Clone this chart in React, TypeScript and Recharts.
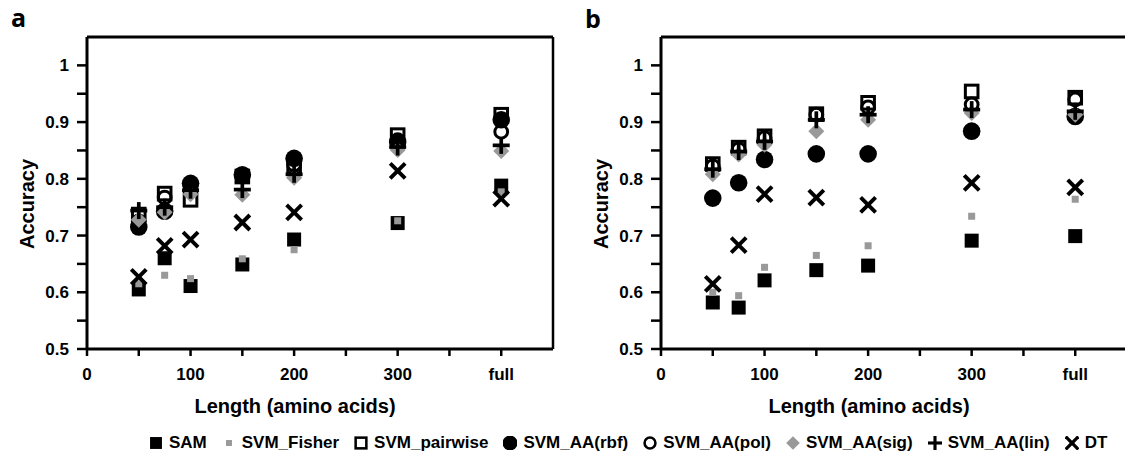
import React from "react";
import { ScatterChart, Scatter, XAxis, YAxis, ReferenceLine } from "recharts";

// ---- data ----
const LENGTHS = [50, 75, 100, 150, 200, 300, 400];
const X_TICKS = [0, 50, 100, 150, 200, 250, 300, 350, 400];
const X_LABELS: Record<number, string> = { 0: "0", 100: "100", 200: "200", 300: "300", 400: "full" };
const Y_TICKS = [0.5, 0.55, 0.6, 0.65, 0.7, 0.75, 0.8, 0.85, 0.9, 0.95, 1];
const LEGEND_NAMES = ["SAM", "SVM_Fisher", "SVM_pairwise", "SVM_AA(rbf)", "SVM_AA(pol)", "SVM_AA(sig)", "SVM_AA(lin)", "DT"];

// panel a
const SAM_A = [0.605, 0.66, 0.611, 0.649, 0.693, 0.722, 0.788];
const FISHER_A = [0.615, 0.63, 0.624, 0.659, 0.675, 0.726, 0.777];
const PAIRWISE_A = [0.737, 0.774, 0.763, 0.804, 0.822, 0.877, 0.913];
const RBF_A = [0.715, 0.743, 0.792, 0.807, 0.836, 0.865, 0.904];
const POL_A = [0.725, 0.767, 0.787, 0.805, 0.825, 0.868, 0.883];
const SIG_A = [0.728, 0.741, 0.773, 0.772, 0.802, 0.851, 0.849];
const LIN_A = [0.744, 0.75, 0.78, 0.781, 0.808, 0.856, 0.859];
const DT_A = [0.627, 0.682, 0.693, 0.723, 0.741, 0.814, 0.765];

// panel b
const SAM_B = [0.582, 0.573, 0.621, 0.639, 0.647, 0.691, 0.699];
const FISHER_B = [0.6, 0.594, 0.644, 0.665, 0.682, 0.734, 0.764];
const PAIRWISE_B = [0.826, 0.855, 0.875, 0.914, 0.934, 0.954, 0.943];
const RBF_B = [0.766, 0.793, 0.834, 0.844, 0.844, 0.884, 0.91];
const POL_B = [0.822, 0.852, 0.872, 0.913, 0.926, 0.931, 0.94];
const SIG_B = [0.808, 0.843, 0.86, 0.884, 0.904, 0.916, 0.913];
const LIN_B = [0.817, 0.848, 0.866, 0.904, 0.913, 0.922, 0.919];
const DT_B = [0.615, 0.683, 0.773, 0.767, 0.754, 0.793, 0.785];

const FONT = '"Liberation Sans", Arial, Helvetica, sans-serif';
const GRAY = "#999999";

type Kind = "sam" | "fisher" | "pairwise" | "rbf" | "pol" | "sig" | "lin" | "dt";

function Marker({ kind, cx, cy, s = 1 }: { kind: Kind; cx: number; cy: number; s?: number }) {
  switch (kind) {
    case "sam":
      return <rect x={cx - 7 * s} y={cy - 7 * s} width={14 * s} height={14 * s} fill="#000" />;
    case "fisher":
      return <rect x={cx - 3.5 * s} y={cy - 3.5 * s} width={7 * s} height={7 * s} fill={GRAY} />;
    case "pairwise":
      return <rect x={cx - 6.3 * s} y={cy - 6.3 * s} width={12.6 * s} height={12.6 * s} fill="none" stroke="#000" strokeWidth={3 * s} />;
    case "rbf":
      return <circle cx={cx} cy={cy} r={8.8 * s} fill="#000" />;
    case "pol":
      return <circle cx={cx} cy={cy} r={6.4 * s} fill="none" stroke="#000" strokeWidth={3 * s} />;
    case "sig":
      return (
        <polygon
          points={`${cx},${cy - 8 * s} ${cx + 8 * s},${cy} ${cx},${cy + 8 * s} ${cx - 8 * s},${cy}`}
          fill={GRAY}
        />
      );
    case "lin":
      return (
        <g stroke="#000" strokeWidth={3.7 * s}>
          <line x1={cx - 8.5 * s} y1={cy} x2={cx + 8.5 * s} y2={cy} />
          <line x1={cx} y1={cy - 8.5 * s} x2={cx} y2={cy + 8.5 * s} />
        </g>
      );
    case "dt":
      return (
        <g stroke="#000" strokeWidth={3.9 * s}>
          <line x1={cx - 7.5 * s} y1={cy - 7.5 * s} x2={cx + 7.5 * s} y2={cy + 7.5 * s} />
          <line x1={cx - 7.5 * s} y1={cy + 7.5 * s} x2={cx + 7.5 * s} y2={cy - 7.5 * s} />
        </g>
      );
  }
  return null;
}

const LEGEND_KINDS: Kind[] = ["sam", "fisher", "pairwise", "rbf", "pol", "sig", "lin", "dt"];
const DRAW_ORDER: Kind[] = ["sam", "fisher", "rbf", "pol", "pairwise", "sig", "lin", "dt"];

const PANEL_A: Record<Kind, number[]> = {
  sam: SAM_A, fisher: FISHER_A, pairwise: PAIRWISE_A, rbf: RBF_A, pol: POL_A, sig: SIG_A, lin: LIN_A, dt: DT_A,
};
const PANEL_B: Record<Kind, number[]> = {
  sam: SAM_B, fisher: FISHER_B, pairwise: PAIRWISE_B, rbf: RBF_B, pol: POL_B, sig: SIG_B, lin: LIN_B, dt: DT_B,
};

const toPts = (ys: number[]) => LENGTHS.map((x, i) => ({ x, y: ys[i] }));

const yFmt = (v: number) => {
  const t = v * 10;
  return Math.abs(t - Math.round(t)) < 1e-6 ? String(Math.round(t) / 10) : "";
};

const tickStyle = { fill: "#000", fontSize: 17, fontWeight: 700, fontFamily: FONT };

function Panel({ left, data }: { left: number; data: Record<Kind, number[]> }) {
  return (
    <div style={{ position: "absolute", left, top: 0 }}>
      <ScatterChart width={560} height={400} margin={{ top: 37, right: 7, bottom: 21, left: 0 }}>
        <XAxis
          type="number"
          dataKey="x"
          domain={[0, 450]}
          ticks={X_TICKS}
          tickFormatter={(v: number) => X_LABELS[v] ?? ""}
          interval={0}
          height={30}
          tickSize={7}
          tickMargin={12}
          tick={tickStyle}
          axisLine={{ stroke: "#000", strokeWidth: 3 }}
          tickLine={{ stroke: "#000", strokeWidth: 2.5 }}
          allowDataOverflow
        />
        <YAxis
          type="number"
          dataKey="y"
          domain={[0.5, 1.05]}
          ticks={Y_TICKS}
          tickFormatter={yFmt}
          interval={0}
          width={87}
          tickSize={10}
          tickMargin={8}
          tick={tickStyle}
          axisLine={{ stroke: "#000", strokeWidth: 3 }}
          tickLine={{ stroke: "#000", strokeWidth: 2.5 }}
          allowDataOverflow
        />
        <ReferenceLine y={1.05} stroke="#000" strokeWidth={3} />
        <ReferenceLine x={450} stroke="#000" strokeWidth={2.5} />
        {DRAW_ORDER.map((k) => (
          <Scatter
            key={k}
            data={toPts(data[k])}
            isAnimationActive={false}
            shape={(p: any) => <Marker kind={k} cx={p.cx} cy={p.cy} />}
          />
        ))}
      </ScatterChart>
    </div>
  );
}

export default function App() {
  return (
    <div
      style={{
        position: "absolute",
        left: 0,
        top: 0,
        width: 1125,
        height: 463,
        overflow: "hidden",
        background: "#fff",
      }}
    >
      <Panel left={0} data={PANEL_A} />
      <Panel left={574} data={PANEL_B} />
      <svg width={1125} height={463} style={{ position: "absolute", left: 0, top: 0, pointerEvents: "none" }}>
        <text x={11} y={27} fontFamily='"Open Sans", sans-serif' fontWeight={700} fontSize={25}>a</text>
        <text x={585} y={28} fontFamily='"Open Sans", sans-serif' fontWeight={700} fontSize={25}>b</text>
        <text x={295} y={413} textAnchor="middle" fontFamily={FONT} fontWeight={700} fontSize={20}>Length (amino acids)</text>
        <text x={869} y={413} textAnchor="middle" fontFamily={FONT} fontWeight={700} fontSize={20}>Length (amino acids)</text>
        <text transform="translate(34,204) rotate(-90)" textAnchor="middle" fontFamily={FONT} fontWeight={700} fontSize={20}>Accuracy</text>
        <text transform="translate(608,204) rotate(-90)" textAnchor="middle" fontFamily={FONT} fontWeight={700} fontSize={20}>Accuracy</text>
      </svg>
      <div
        style={{
          position: "absolute",
          left: 149,
          top: 433,
          display: "flex",
          alignItems: "center",
          fontFamily: FONT,
          fontWeight: 700,
          fontSize: 17,
          lineHeight: "20px",
          whiteSpace: "nowrap",
        }}
      >
        {LEGEND_KINDS.map((k, i) => (
          <span key={k} style={{ display: "inline-flex", alignItems: "center", marginRight: i < 7 ? 15 : 0 }}>
            <svg width={14} height={14} style={{ display: "block" }}>
              <Marker kind={k} cx={7} cy={7} s={0.85} />
            </svg>
            <span style={{ marginLeft: 6 }}>{LEGEND_NAMES[i]}</span>
          </span>
        ))}
      </div>
    </div>
  );
}
